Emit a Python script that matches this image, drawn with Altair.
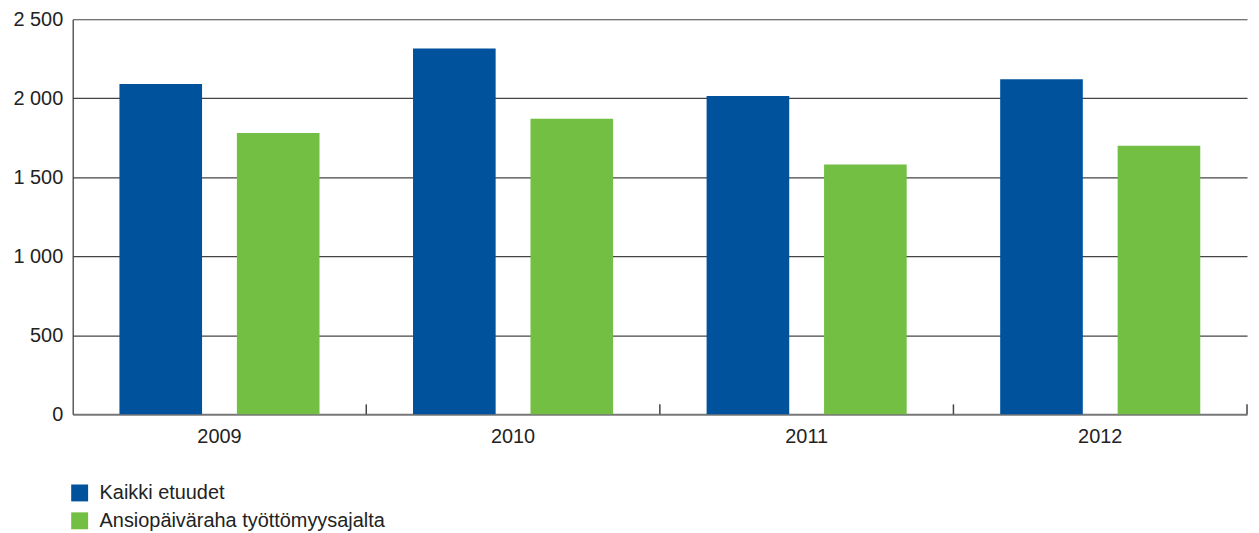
import altair as alt
import pandas as pd

years = ["2009", "2010", "2011", "2012"]
series = ["Kaikki etuudet", "Ansiopäiväraha työttömyysajalta"]
kaikki = [2090, 2315, 2015, 2120]
ansio = [1780, 1870, 1580, 1700]
colors = ["#00529C", "#72BF44"]
y_ticks = [0, 500, 1000, 1500, 2000, 2500]

rows = []
for i, y in enumerate(years):
    rows.append({"year": y, "series": series[0], "value": kaikki[i]})
    rows.append({"year": y, "series": series[1], "value": ansio[i]})
df = pd.DataFrame(rows)
ticks_df = pd.DataFrame({"year": years})

x_axis = alt.Axis(
    title=None, ticks=False, tickSize=0, labelFontSize=20, labelColor="#222222",
    labelPadding=12, domainColor="#777777", domainWidth=2, labelAngle=0,
)
x_scale = alt.Scale(domain=years, paddingInner=0, paddingOuter=0)

bars = alt.Chart(df).mark_bar().encode(
    x=alt.X("year:N", scale=x_scale, axis=x_axis),
    xOffset=alt.XOffset("series:N", scale=alt.Scale(domain=series, paddingInner=0.2966, paddingOuter=0.398)),
    y=alt.Y(
        "value:Q",
        scale=alt.Scale(domain=[0, 2500], nice=False),
        axis=alt.Axis(
            title=None, values=y_ticks, ticks=False, grid=True,
            gridColor=alt.condition("datum.value == 0", alt.value("transparent"), alt.value("#444444")),
            gridWidth=1.2, domainColor="#333333", domainWidth=1.2,
            labelFontSize=20, labelColor="#222222", labelPadding=10,
            labelExpr="replace(format(datum.value, ','), ',', ' ')",
        ),
    ),
    color=alt.Color(
        "series:N",
        scale=alt.Scale(domain=series, range=colors),
        legend=alt.Legend(
            title=None, orient="none", legendX=-3, legendY=466, direction="vertical",
            symbolType="square", symbolSize=289, symbolStrokeWidth=0, symbolOpacity=1,
            labelFontSize=20, labelColor="#222222", labelOffset=10, rowPadding=8, padding=0,
            labelLimit=0,
        ),
    ),
)

tick_rules = alt.Chart(ticks_df).mark_rule(color="#444444", strokeWidth=1.5, y2Offset=-10).encode(
    x=alt.X("year:N", scale=x_scale, axis=x_axis, bandPosition=1),
    y=alt.datum(0),
    y2=alt.datum(0),
)

chart = alt.layer(bars, tick_rules).properties(
    width=1180, height=397,
    autosize=alt.AutoSizeParams(type="none"),
    padding={"left": 65, "top": 10, "right": 4, "bottom": 125},
).configure(font="Liberation Sans").configure_view(stroke=None)

chart.save("out.html", embed_options={"renderer": "svg", "actions": False})
